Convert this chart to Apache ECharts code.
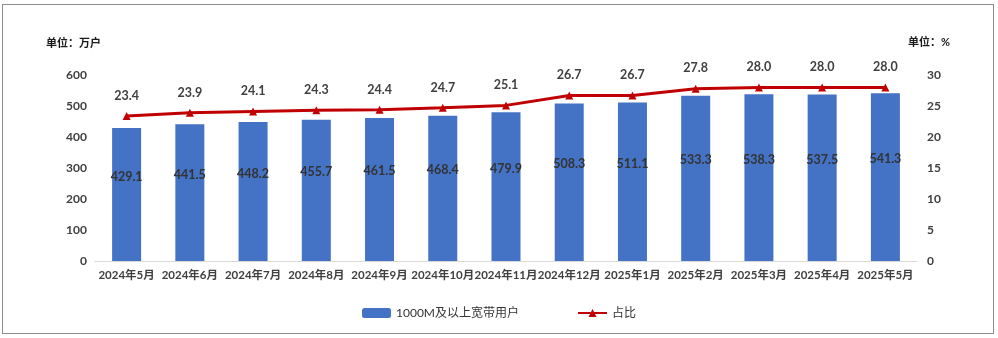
<!DOCTYPE html>
<html><head><meta charset="utf-8">
<script src="https://cdn.jsdelivr.net/npm/echarts@6/dist/echarts.min.js"></script>
<style>
html,body{margin:0;padding:0;background:#fff;}
#frame{position:absolute;left:2px;top:4px;width:990px;height:328px;border:1px solid #8c8c8c;}
#c{position:absolute;left:0;top:0;width:998px;height:338px;}
</style></head>
<body>
<div id="frame"></div>
<div id="c"></div>
<script>
const categories = ['2024年5月','2024年6月','2024年7月','2024年8月','2024年9月','2024年10月','2024年11月','2024年12月','2025年1月','2025年2月','2025年3月','2025年4月','2025年5月'];
const users = [429.1,441.5,448.2,455.7,461.5,468.4,479.9,508.3,511.1,533.3,538.3,537.5,541.3];
const share = [23.4,23.9,24.1,24.3,24.4,24.7,25.1,26.7,26.7,27.8,28.0,28.0,28.0];
const leftTicks = [0,100,200,300,400,500,600];
const rightTicks = [0,5,10,15,20,25,30];

const FONT = 'Lato, "Noto Sans CJK SC", sans-serif';
const TXT = '#404040';
const chart = echarts.init(document.getElementById('c'));
chart.setOption({
  animation:false,
  textStyle:{fontFamily:FONT},
  grid:{left:95,right:81,top:75,bottom:77},
  graphic:[
    {type:'text',left:46,top:38,style:{text:'单位：万户',font:'bold 11px '+FONT,fill:'#1a1a1a'}},
    {type:'text',left:908,top:37,style:{text:'单位：%',font:'bold 11px '+FONT,fill:'#1a1a1a'}}
  ],
  legend:{
    bottom:14,left:'center',itemGap:58,itemWidth:29,itemHeight:10,
    textStyle:{fontSize:12,color:'#333',fontFamily:FONT},
    data:[{name:'1000M及以上宽带用户',icon:'roundRect'},{name:'占比'}]
  },
  xAxis:{
    type:'category',data:categories,
    axisLine:{lineStyle:{color:'#d9d9d9',width:1}},
    axisTick:{show:false},
    axisLabel:{interval:0,color:TXT,fontWeight:'bold',fontSize:11.5,margin:9,fontFamily:FONT}
  },
  yAxis:[
    {type:'value',min:leftTicks[0],max:leftTicks[leftTicks.length-1],interval:100,
     splitLine:{show:false},axisLine:{show:false},axisTick:{show:false},
     axisLabel:{color:TXT,fontWeight:'bold',fontSize:12,margin:8,fontFamily:FONT}},
    {type:'value',min:rightTicks[0],max:rightTicks[rightTicks.length-1],interval:5,
     splitLine:{show:false},axisLine:{show:false},axisTick:{show:false},
     axisLabel:{color:TXT,fontWeight:'bold',fontSize:12,margin:10,fontFamily:FONT}}
  ],
  series:[
    {name:'1000M及以上宽带用户',type:'bar',data:users,barWidth:29,
     itemStyle:{color:'#4472C4'},
     label:{show:true,position:'inside',offset:[0,-18],color:'#333',fontWeight:'bold',fontSize:12.5,fontFamily:FONT,
       formatter:p=>p.value.toFixed(1)}},
    {name:'占比',type:'line',yAxisIndex:1,data:share,
     lineStyle:{color:'#C00000',width:3},itemStyle:{color:'#C00000'},
     symbol:'triangle',symbolSize:8,
     label:{show:true,position:'top',distance:10,color:TXT,fontWeight:'bold',fontSize:12.5,fontFamily:FONT,
       formatter:p=>p.value.toFixed(1)}}
  ]
});
</script>
</body></html>
